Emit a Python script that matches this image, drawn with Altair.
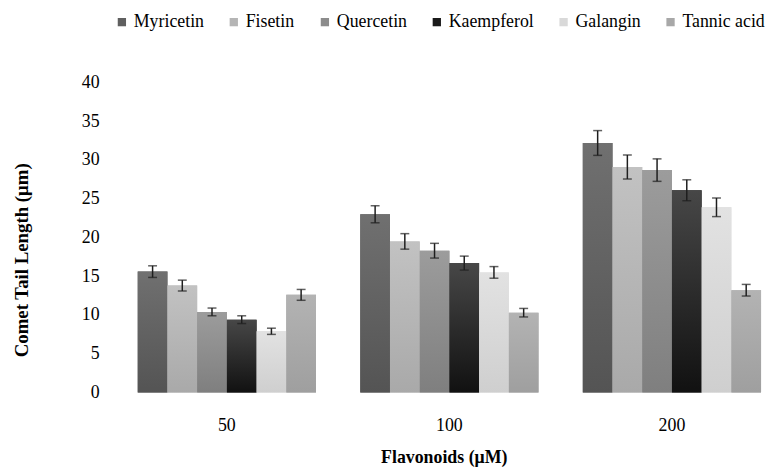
import altair as alt
import pandas as pd

concentrations = ["50", "100", "200"]
flavonoids = ["Myricetin", "Fisetin", "Quercetin", "Kaempferol", "Galangin", "Tannic acid"]

myricetin = [15.6, 23.0, 32.2]
fisetin = [13.8, 19.5, 29.1]
quercetin = [10.4, 18.3, 28.7]
kaempferol = [9.4, 16.7, 26.1]
galangin = [7.9, 15.5, 23.9]
tannic_acid = [12.6, 10.3, 13.2]

myricetin_err = [0.75, 1.1, 1.6]
fisetin_err = [0.7, 1.0, 1.55]
quercetin_err = [0.5, 0.95, 1.45]
kaempferol_err = [0.5, 0.9, 1.35]
galangin_err = [0.4, 0.75, 1.2]
tannic_acid_err = [0.7, 0.55, 0.75]

y_step = 5

solid_colors = ["#5f5f5f", "#b5b5b5", "#8c8c8c", "#1a1a1a", "#d9d9d9", "#a8a8a8"]
gradients = {
    "Myricetin": ("#707070", "#545454"),
    "Fisetin": ("#c2c2c2", "#a9a9a9"),
    "Quercetin": ("#9c9c9c", "#7f7f7f"),
    "Kaempferol": ("#474747", "#111111"),
    "Galangin": ("#e2e2e2", "#cfcfcf"),
    "Tannic acid": ("#b3b3b3", "#9f9f9f"),
}

series = [myricetin, fisetin, quercetin, kaempferol, galangin, tannic_acid]
errors = [myricetin_err, fisetin_err, quercetin_err, kaempferol_err, galangin_err, tannic_acid_err]

rows = []
for f, vals, errs in zip(flavonoids, series, errors):
    for c, v, e in zip(concentrations, vals, errs):
        rows.append({"conc": c, "flav": f, "value": v, "lo": v - e, "hi": v + e})
df = pd.DataFrame(rows)

FONT = "Liberation Serif"

x_axis = alt.Axis(title="Flavonoids (μM)", labelAngle=0, domain=False, ticks=False,
                  tickSize=0, labelPadding=24, labelFontSize=18, labelColor="#000",
                  labelFont=FONT, titleFont=FONT,
                  titleFontSize=18, titleFontWeight="bold", titleColor="#000",
                  titleX=313, titleY=71, titleBaseline="alphabetic", titleAlign="center")
y_axis = alt.Axis(title="Comet Tail Length (μm)", tickCount=8, tickMinStep=y_step, grid=False, domain=False,
                  ticks=False, tickSize=0, labelPadding=35, labelFontSize=18, labelColor="#000",
                  labelOverlap=False, labelFont=FONT, titleFont=FONT,
                  titleFontSize=19, titleFontWeight="bold", titleColor="#000",
                  titleAngle=270, titleX=-113, titleY=179, titleAlign="center",
                  titleBaseline="middle")

x_scale = alt.Scale(paddingInner=0.199, paddingOuter=0.0178)
xo_scale = alt.Scale(paddingInner=0, paddingOuter=0)
y_scale = alt.Scale(domain=[0, 40], nice=False)


def xenc():
    return alt.X("conc:N", sort=concentrations, scale=x_scale, axis=x_axis)


def xoenc():
    return alt.XOffset("flav:N", sort=flavonoids, scale=xo_scale)


def yenc(field):
    return alt.Y(field + ":Q", scale=y_scale, axis=y_axis)


base = alt.Chart(df)

bars = base.mark_bar().encode(
    x=xenc(), xOffset=xoenc(), y=yenc("value"),
    color=alt.Color("flav:N", sort=flavonoids,
                    scale=alt.Scale(domain=flavonoids, range=solid_colors),
                    legend=alt.Legend(title=None, orient="none", direction="horizontal",
                                      legendX=-21, legendY=-70, columns=6, columnPadding=21,
                                      symbolType="square", symbolSize=70, symbolStrokeWidth=0,
                                      labelFontSize=18, labelFont=FONT, labelColor="#000",
                                      labelOffset=3, labelLimit=0)),
)

layers = [bars]
for f in flavonoids:
    top, bot = gradients[f]
    layers.append(
        base.transform_filter(alt.datum.flav == f).mark_bar(
            color=alt.Gradient(gradient="linear", x1=0, y1=0, x2=0, y2=1,
                               stops=[alt.GradientStop(color=top, offset=0),
                                      alt.GradientStop(color=bot, offset=1)])
        ).encode(x=xenc(), xOffset=xoenc(), y=yenc("value"))
    )

err_rule = base.mark_rule(color="#1e1e1e", strokeWidth=1.5).encode(
    x=xenc(), xOffset=xoenc(), y=yenc("lo"), y2="hi:Q")
cap_lo = base.mark_tick(orient="horizontal", color="#1e1e1e", size=9, thickness=1.5).encode(
    x=xenc(), xOffset=xoenc(), y=yenc("lo"))
cap_hi = base.mark_tick(orient="horizontal", color="#1e1e1e", size=9, thickness=1.5).encode(
    x=xenc(), xOffset=xoenc(), y=yenc("hi"))

layers += [err_rule, cap_lo, cap_hi]

chart = alt.layer(*layers).properties(
    width=637.4, height=313,
    autosize=alt.AutoSizeParams(type="none"),
    padding={"left": 127, "top": 73, "right": 1, "bottom": 78},
    background="white",
).configure(
    font=FONT,
).configure_view(stroke=None).configure_legend(labelFont=FONT).configure_axis(
    labelFont=FONT, titleFont=FONT, labelOverlap=False).configure_axisY(tickCount=8, labelOverlap=False)

chart.save("out.html", embed_options={"renderer": "svg", "actions": False})
